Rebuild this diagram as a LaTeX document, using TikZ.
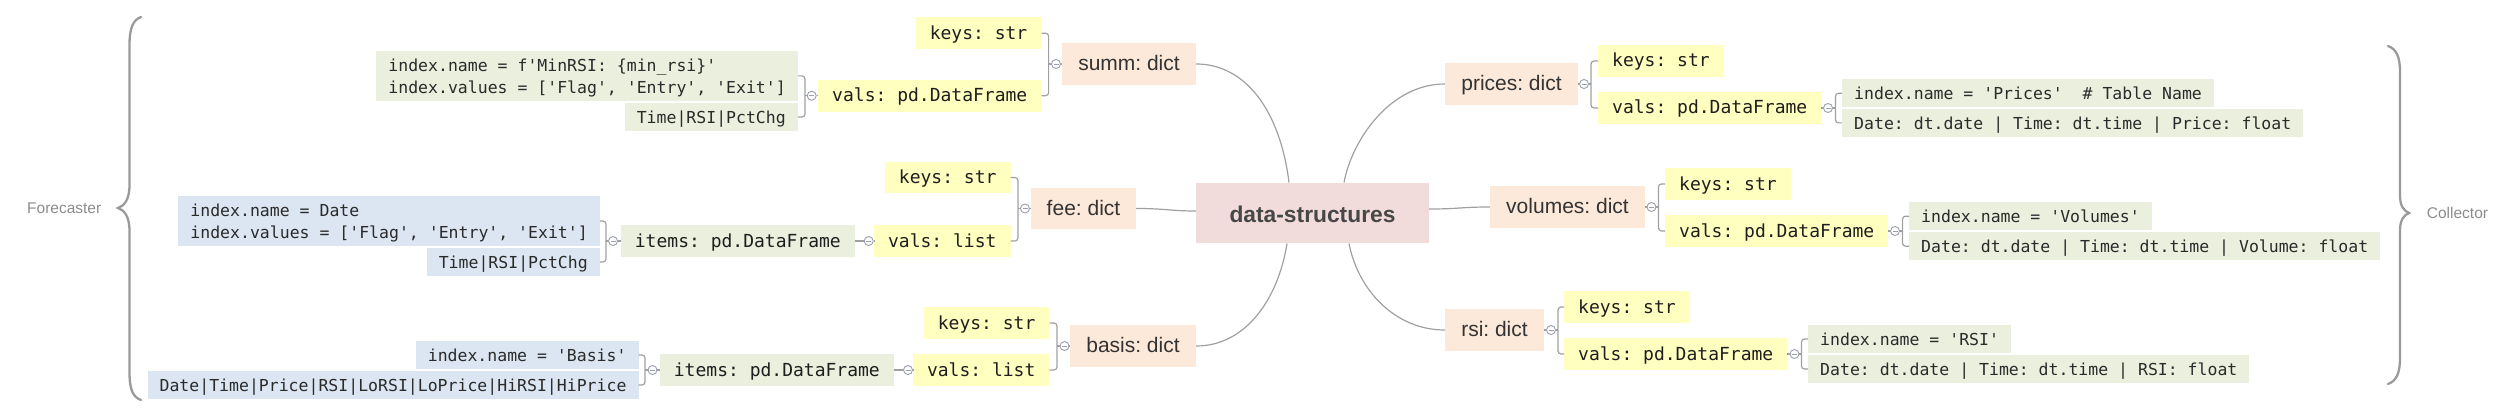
\documentclass[tikz,border=0pt]{standalone}
\usepackage{fontspec}
\setmainfont{Liberation Sans}
\newfontfamily\monof[Ligatures=TeXOff]{DejaVu Sans Mono}
\usetikzlibrary{calc}
\definecolor{yfill}{HTML}{FFFFC0}
\definecolor{gfill}{HTML}{EBF0DE}
\definecolor{bfill}{HTML}{DCE6F2}
\definecolor{pfill}{HTML}{FDE9D9}
\definecolor{tfill}{HTML}{F2DCDB}
\definecolor{titc}{HTML}{474747}
\definecolor{dtext}{HTML}{333333}
\definecolor{ytext}{HTML}{1E1E1E}
\definecolor{ctext}{HTML}{2A2A2A}
\definecolor{linec}{HTML}{A0A0A0}
\definecolor{togc}{HTML}{9A9FAE}
\definecolor{bracec}{HTML}{9A9A9A}
\definecolor{sidec}{HTML}{8C8C8C}
\newcommand\cstr{\rule[-1pt]{0pt}{14.5pt}}
\newcommand\ystr{\rule[-2pt]{0pt}{16pt}}
\newcommand\pstr{\rule[-1.3pt]{0pt}{16.3pt}}
\newcommand\tstr{\rule{0pt}{18pt}}
\begin{document}
\frenchspacing
\begin{tikzpicture}[x=1pt,y=-1pt,
  title/.style={fill=tfill, minimum width=233pt, minimum height=60.6pt, inner sep=0pt, font=\fontsize{22.8pt}{26pt}\selectfont\bfseries, text=titc},
  dict/.style={fill=pfill, minimum height=41.7pt, inner sep=0pt, font=\fontsize{21pt}{24pt}\selectfont\frenchspacing, text=dtext},
  ykey/.style={fill=yfill, inner xsep=14pt, inner ysep=0pt, minimum height=31.7pt, font=\monof\fontsize{18pt}{22pt}\selectfont\frenchspacing, text=ytext},
  gitem/.style={ykey, fill=gfill},
  code/.style={inner xsep=12pt, inner ysep=0pt, minimum height=27.7pt, font=\monof\fontsize{16.5pt}{22pt}\selectfont\frenchspacing, text=ctext, align=left},
  gcode/.style={code, fill=gfill},
  bcode/.style={code, fill=bfill},
  tog/.style={circle, draw=togc, fill=white, line width=0.9pt, minimum size=9pt, inner sep=0pt,
    path picture={\draw[togc, line width=0.9pt] ([xshift=-2.5pt]path picture bounding box.center) -- ([xshift=2.5pt]path picture bounding box.center);}},
  conn/.style={draw=linec, line width=1.2pt},
  brace/.style={draw=bracec, line width=2.3pt, line cap=round},
  side/.style={font=\fontsize{15.5pt}{18pt}\selectfont, text=sidec, inner sep=0pt}
]
\useasboundingbox (0,0) rectangle (2517,417);

% center
\node[title] (ds) at (1312.5,213) {\tstr\smash{data-structures}};

% ---------- summ ----------
\node[dict, minimum width=134pt] (summ) at (1129,64) {\pstr\smash{summ: dict}};
\node[ykey, anchor=east] (kS) at (1041.5,33.2) {\ystr\smash{keys: str}};
\node[ykey, anchor=east] (vS) at (1041.5,95.7) {\ystr\smash{vals: pd.DataFrame}};
\node[tog] (cS) at (1056,64) {};
\coordinate (bS) at (1048.6,64);
\node[gcode, anchor=east, minimum height=50pt] (xS1) at (798,75.9) {\cstr\smash{index.name = f'MinRSI: \{min\_rsi\}'}\\\cstr\smash{index.values = ['Flag', 'Entry', 'Exit']}};
\node[gcode, anchor=east] (xS2) at (798,117) {\cstr\smash{Time|RSI|PctChg}};
\node[tog] (cvS) at (811.7,95.7) {};
\coordinate (bvS) at (805,95.7);

% ---------- fee ----------
\node[dict, minimum width=105pt] (fee) at (1083.5,208.5) {\pstr\smash{fee: dict}};
\node[ykey, anchor=east] (kF) at (1010.7,177.5) {\ystr\smash{keys: str}};
\node[ykey, anchor=east] (vF) at (1010.7,241) {\ystr\smash{vals: list}};
\node[tog] (cF) at (1025,208.5) {};
\coordinate (bF) at (1018,208.5);
\node[gitem, anchor=east] (iF) at (855,241) {\ystr\smash{items: pd.DataFrame}};
\node[tog] (cvF) at (868.7,241) {};
\node[bcode, anchor=east, minimum height=50pt] (xF1) at (600,221) {\cstr\smash{index.name = Date}\\\cstr\smash{index.values = ['Flag', 'Entry', 'Exit']}};
\node[bcode, anchor=east] (xF2) at (600,262) {\cstr\smash{Time|RSI|PctChg}};
\node[tog] (ciF) at (613,241) {};
\coordinate (biF) at (606,241);

% ---------- basis ----------
\node[dict, minimum width=126pt] (basis) at (1133,346) {\pstr\smash{basis: dict}};
\node[ykey, anchor=east] (kB) at (1049.6,323) {\ystr\smash{keys: str}};
\node[ykey, anchor=east] (vB) at (1049.6,370) {\ystr\smash{vals: list}};
\node[tog] (cB) at (1064.5,346) {};
\coordinate (bB) at (1057,346);
\node[gitem, anchor=east] (iB) at (894,370) {\ystr\smash{items: pd.DataFrame}};
\node[tog] (cvB) at (908,370) {};
\node[bcode, anchor=east] (xB1) at (638.7,355) {\cstr\smash{index.name = 'Basis'}};
\node[bcode, anchor=east] (xB2) at (638.7,385) {\cstr\smash{Date|Time|Price|RSI|LoRSI|LoPrice|HiRSI|HiPrice}};
\node[tog] (ciB) at (652.5,370) {};
\coordinate (biB) at (645,370);

% ---------- prices ----------
\node[dict, minimum width=133pt] (prices) at (1511.5,84) {\pstr\smash{prices: dict}};
\node[tog] (cP) at (1584,84) {};
\coordinate (bP) at (1591,84);
\node[ykey, anchor=west] (kP) at (1598,61) {\ystr\smash{keys: str}};
\node[ykey, anchor=west] (vP) at (1598,108) {\ystr\smash{vals: pd.DataFrame}};
\node[tog] (cvP) at (1828,108) {};
\coordinate (bvP) at (1835.5,108);
\node[gcode, anchor=west] (xP1) at (1842,93.2) {\cstr\smash{index.name = 'Prices'\ \ \# Table Name}};
\node[gcode, anchor=west] (xP2) at (1842,122.9) {\cstr\smash{Date: dt.date | Time: dt.time | Price: float}};

% ---------- volumes ----------
\node[dict, minimum width=155pt] (vol) at (1567.5,207) {\pstr\smash{volumes: dict}};
\node[tog] (cV) at (1651.5,207) {};
\coordinate (bV) at (1658.5,207);
\node[ykey, anchor=west] (kV) at (1665,184) {\ystr\smash{keys: str}};
\node[ykey, anchor=west] (vV) at (1665,231) {\ystr\smash{vals: pd.DataFrame}};
\node[tog] (cvV) at (1895,231) {};
\coordinate (bvV) at (1902.5,231);
\node[gcode, anchor=west] (xV1) at (1909,216.2) {\cstr\smash{index.name = 'Volumes'}};
\node[gcode, anchor=west] (xV2) at (1909,246.2) {\cstr\smash{Date: dt.date | Time: dt.time | Volume: float}};

% ---------- rsi ----------
\node[dict, minimum width=99pt] (rsi) at (1494.5,330) {\pstr\smash{rsi: dict}};
\node[tog] (cR) at (1551,330) {};
\coordinate (bR) at (1558,330);
\node[ykey, anchor=west] (kR) at (1564,307) {\ystr\smash{keys: str}};
\node[ykey, anchor=west] (vR) at (1564,354) {\ystr\smash{vals: pd.DataFrame}};
\node[tog] (cvR) at (1794.5,354) {};
\coordinate (bvR) at (1801.5,354);
\node[gcode, anchor=west] (xR1) at (1808,339) {\cstr\smash{index.name = 'RSI'}};
\node[gcode, anchor=west] (xR2) at (1808,369) {\cstr\smash{Date: dt.date | Time: dt.time | RSI: float}};

% ---------- main connectors ----------
\draw[conn] (summ.east) .. controls (1245,64) and (1280,110) .. ($(ds.north)+(-23.5,0)$);
\draw[conn] ($(ds.north)+(31.5,0)$) .. controls (1352,140) and (1390,84) .. (prices.west);
\draw[conn] (basis.east) .. controls (1245,346) and (1278,300) .. ($(ds.south)+(-25.5,0)$);
\draw[conn] ($(ds.south)+(36.5,0)$) .. controls (1358,290) and (1395,330) .. (rsi.west);
\draw[conn] (fee.east) .. controls (1166,208.5) and (1170,211) .. ($(ds.west)+(0,-2)$);
\draw[conn] ($(ds.east)+(0,-4)$) .. controls (1460,209) and (1460,207) .. (vol.west);

% ---------- brackets (left side) ----------
\draw[conn, rounded corners=3pt] (kS.east) -| (bS) |- (vS.east);
\draw[conn] (summ.west) -- (cS.east);
\draw[conn] (cS.west) -- (bS);
\draw[conn, rounded corners=3pt] (xS1.east) -| (bvS) |- (xS2.east);
\draw[conn] (vS.west) -- (cvS.east);
\draw[conn] (cvS.west) -- (bvS);

\draw[conn, rounded corners=3pt] (kF.east) -| (bF) |- (vF.east);
\draw[conn] (fee.west) -- (cF.east);
\draw[conn] (cF.west) -- (bF);
\draw[conn] (vF.west) -- (cvF.east);
\draw[conn] (cvF.west) -- (iF.east);
\draw[conn, rounded corners=3pt] (xF1.east) -| (biF) |- (xF2.east);
\draw[conn] (iF.west) -- (ciF.east);
\draw[conn] (ciF.west) -- (biF);

\draw[conn, rounded corners=3pt] (kB.east) -| (bB) |- (vB.east);
\draw[conn] (basis.west) -- (cB.east);
\draw[conn] (cB.west) -- (bB);
\draw[conn] (vB.west) -- (cvB.east);
\draw[conn] (cvB.west) -- (iB.east);
\draw[conn, rounded corners=3pt] (xB1.east) -| (biB) |- (xB2.east);
\draw[conn] (iB.west) -- (ciB.east);
\draw[conn] (ciB.west) -- (biB);

% ---------- brackets (right side) ----------
\draw[conn, rounded corners=3pt] (kP.west) -| (bP) |- (vP.west);
\draw[conn] (prices.east) -- (cP.west);
\draw[conn] (cP.east) -- (bP);
\draw[conn, rounded corners=3pt] (xP1.west) -| (bvP) |- (xP2.west);
\draw[conn] (vP.east) -- (cvP.west);
\draw[conn] (cvP.east) -- (bvP);

\draw[conn, rounded corners=3pt] (kV.west) -| (bV) |- (vV.west);
\draw[conn] (vol.east) -- (cV.west);
\draw[conn] (cV.east) -- (bV);
\draw[conn, rounded corners=3pt] (xV1.west) -| (bvV) |- (xV2.west);
\draw[conn] (vV.east) -- (cvV.west);
\draw[conn] (cvV.east) -- (bvV);

\draw[conn, rounded corners=3pt] (kR.west) -| (bR) |- (vR.west);
\draw[conn] (rsi.east) -- (cR.west);
\draw[conn] (cR.east) -- (bR);
\draw[conn, rounded corners=3pt] (xR1.west) -| (bvR) |- (xR2.west);
\draw[conn] (vR.east) -- (cvR.west);
\draw[conn] (cvR.east) -- (bvR);

% ---------- braces and side labels ----------
\draw[brace] (141,17) .. controls (133,20) and (129.5,28) .. (129.5,45) -- (129.5,185) .. controls (129.5,200) and (124,206) .. (118,208) .. controls (124,210) and (129.5,216) .. (129.5,231) -- (129.5,372) .. controls (129.5,390) and (133,397) .. (141,400);
\draw[brace] (2388,46) .. controls (2396,49) and (2400,56) .. (2400,72) -- (2400,196) .. controls (2400,206) and (2404,211) .. (2409,213) .. controls (2404,215) and (2400,220) .. (2400,230) -- (2400,358) .. controls (2400,374) and (2396,381) .. (2388,384);
\node[side, anchor=west] (fc) at (27,208) {Forecaster};
\node[side, anchor=west] (cl) at (2426.7,213) {Collector};
\end{tikzpicture}
\end{document}
